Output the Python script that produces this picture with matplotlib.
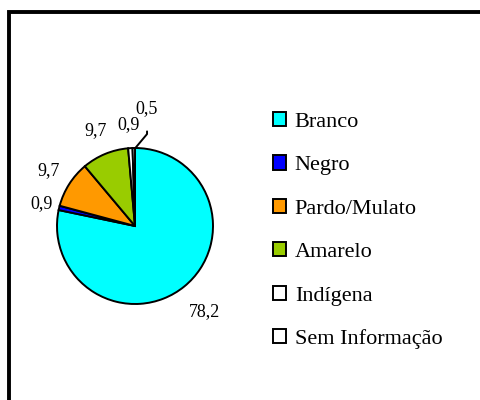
import numpy as np
import matplotlib.pyplot as plt
from matplotlib.patches import Rectangle

plt.rcParams['font.family'] = ['Liberation Serif', 'DejaVu Serif']

# dados
categorias = ['Branco', 'Negro', 'Pardo/Mulato', 'Amarelo', 'Indígena', 'Sem Informação']
valores = [78.2, 0.9, 9.7, 9.7, 0.9, 0.5]
cores = ['#00FFFF', '#0000FF', '#FF9900', '#99CC00', '#FFFFFF', '#FFFFFF']

# distancia dos rotulos (em raios)
dist_rotulo = [1.42, 1.23, 1.32, 1.33, 1.30, 1.30]

fig = plt.figure(figsize=(4.8, 4.0), dpi=100)

# moldura
fig.patches.append(Rectangle((9 / 480, -0.1), 1.2, 1 - 12 / 400 + 0.1,
                             transform=fig.transFigure, fill=False,
                             edgecolor='black', linewidth=2.8))

ax = fig.add_axes([(135 - 78) / 480, (400 - 226 - 78) / 400, 156 / 480, 156 / 400])
wedges, _ = ax.pie(valores, colors=cores, startangle=90, counterclock=False,
                   wedgeprops=dict(edgecolor='black', linewidth=1.4))
ax.set_xlim(-1, 1)
ax.set_ylim(-1, 1)
ax.axis('off')

for i, (w, v) in enumerate(zip(wedges, valores)):
    ang = np.deg2rad((w.theta1 + w.theta2) / 2)
    txt = f'{v:.1f}'.replace('.', ',')
    x, y = np.cos(ang), np.sin(ang)
    if i == len(valores) - 1:
        # rotulo deslocado com linha guia
        ax.annotate(txt, xy=(x + 0.02, y), xytext=(x + 0.17, y + 0.5),
                    ha='center', va='center', fontsize=13,
                    arrowprops=dict(arrowstyle='-', color='black', lw=1.4,
                                    shrinkA=8, shrinkB=0,
                                    connectionstyle='angle,angleA=90,angleB=50,rad=0'))
    else:
        d = dist_rotulo[i]
        ax.text(x * d, y * d, txt, ha='center', va='center', fontsize=13)

ax.legend(wedges, categorias, loc='upper left', bbox_to_anchor=(273 / 480, 1 - 112 / 400),
          bbox_transform=fig.transFigure, frameon=False, fontsize=16,
          handlelength=0.6, handleheight=0.6, handletextpad=0.38,
          labelspacing=1.06, borderpad=0, borderaxespad=0)

fig.savefig('out.png', dpi=100, facecolor='white')
